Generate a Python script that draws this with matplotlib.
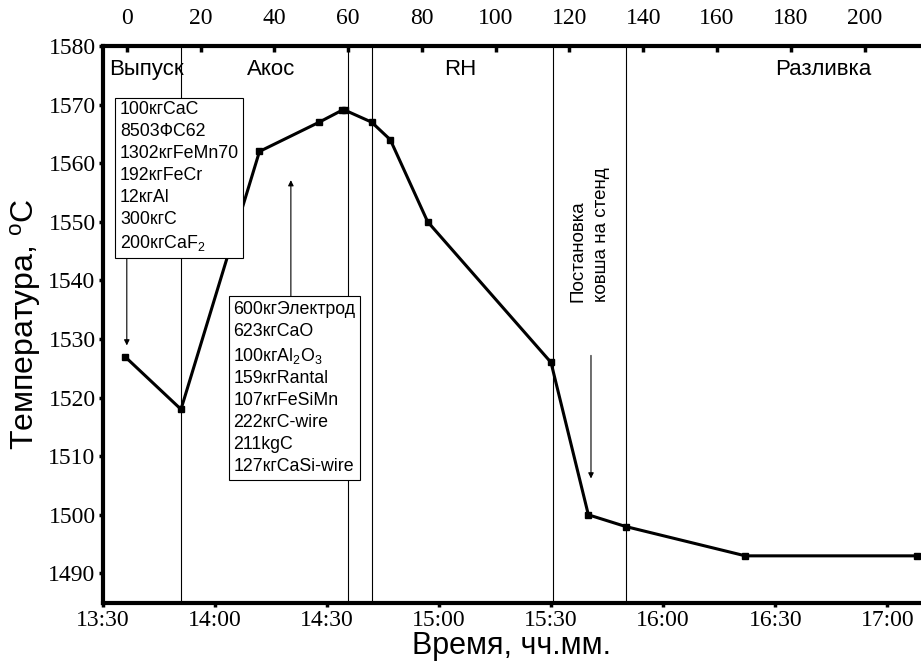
import matplotlib
matplotlib.use("Agg")
import matplotlib.pyplot as plt

# measured ladle temperature during the heat
times = ["13:36", "13:51", "14:12", "14:28", "14:34", "14:35", "14:42",
         "14:47", "14:57", "15:30", "15:40", "15:50", "16:22", "17:08"]
temps = [1527, 1518, 1562, 1567, 1569, 1569, 1567,
         1564, 1550, 1526, 1500, 1498, 1493, 1493]

# phase boundaries (vertical lines)
bounds = ["13:51", "14:35:36", "14:42", "15:30:30", "15:50"]

phases = ["Выпуск", "Акос", "RH", "Разливка"]
phase_x = ["13:31:48", "14:15:06", "15:05:48", "16:42:48"]

bottom_ticks = ["13:30", "14:00", "14:30", "15:00", "15:30", "16:00", "16:30", "17:00"]
top_ticks = [0, 20, 40, 60, 80, 100, 120, 140, 160, 180, 200]
y_ticks = [1490, 1500, 1510, 1520, 1530, 1540, 1550, 1560, 1570, 1580]

box1 = ["100кгCaC", "8503ФС62", "1302кгFeMn70", "192кгFeCr", "12кгAl",
        "300кгC", "200кгCaF$_2$"]
box2 = ["600кгЭлектрод", "623кгCaO", "100кгAl$_2$O$_3$", "159кгRantal",
        "107кгFeSiMn", "222кгC-wire", "211kgC", "127кгCaSi-wire"]


def to_min(s):
    # minutes after 13:30
    parts = [int(p) for p in s.split(":")]
    h, m = parts[0], parts[1]
    sec = parts[2] if len(parts) > 2 else 0
    return (h - 13) * 60 + m - 30 + sec / 60.0


plt.rcParams['font.family'] = ['Liberation Sans', 'DejaVu Sans']
plt.rcParams['mathtext.fontset'] = 'custom'
plt.rcParams['mathtext.rm'] = 'Liberation Sans'
plt.rcParams['mathtext.it'] = 'Liberation Sans:italic'

fig = plt.figure(figsize=(9.21, 6.66), dpi=100)
ax = fig.add_axes([0.1113, 0.095, 0.8887, 0.836])

x = [to_min(t) for t in times]
ax.plot(x, temps, '-s', color='k', lw=2.2, ms=5, clip_on=False, zorder=5)

for b in bounds:
    ax.axvline(to_min(b), color='k', lw=0.8, zorder=1)

ax.set_xlim(0, 219)
ax.set_ylim(1485, 1580)
ax.set_xticks([to_min(t) for t in bottom_ticks])
ax.set_xticklabels(bottom_ticks)
ax.set_yticks(y_ticks)

for lab in ax.get_xticklabels() + ax.get_yticklabels():
    lab.set_fontfamily('Liberation Serif')
    lab.set_fontsize(17)
ax.tick_params(axis='both', direction='out', length=3, width=2.5)
ax.tick_params(axis='x', pad=2)
ax.tick_params(axis='y', pad=2)

for side in ['left', 'bottom', 'top']:
    ax.spines[side].set_linewidth(3)
ax.spines['right'].set_visible(False)

ax.set_xlabel("Время, чч.мм.", fontsize=22, labelpad=0)
ax.set_ylabel("Температура, $^{\\rm o}$C", fontsize=23, labelpad=4)

# top axis: minutes from start of the heat
ax2 = ax.twiny()
ax2.set_xlim(-6.6, 215.3)
ax2.set_xticks(top_ticks)
ax2.tick_params(axis='x', direction='in', length=4, width=2.5, pad=12)
for lab in ax2.get_xticklabels():
    lab.set_fontfamily('Liberation Serif')
    lab.set_fontsize(17)
for s in ax2.spines.values():
    s.set_visible(False)

# phase names
for name, px in zip(phases, phase_x):
    ha = 'left' if name == "Выпуск" else 'center'
    ax.text(to_min(px), 1575.0, name, fontsize=16, ha=ha, va='baseline')

bbox = dict(boxstyle='square,pad=0.25', fc='white', ec='k', lw=0.8)
ax.text(4.66, 1570.6, "\n".join(box1), fontsize=12.8, ha='left', va='top',
        linespacing=1.38, bbox=bbox, zorder=6)
ax.text(35.0, 1536.5, "\n".join(box2), fontsize=12.8, ha='left', va='top',
        linespacing=1.38, bbox=bbox, zorder=6)

ax.text(130.4, 1536.3, "Постановка\nковша на стенд", fontsize=13.5,
        rotation=90, ha='center', va='bottom', multialignment='left',
        linespacing=1.45)

arrow = dict(arrowstyle='-|>', lw=0.8, color='k', mutation_scale=8,
             shrinkA=0, shrinkB=0)
ax.annotate("", xy=(6.5, 1528.9), xytext=(6.5, 1544.2), arrowprops=arrow)
ax.annotate("", xy=(50.4, 1557.1), xytext=(50.4, 1537.2), arrowprops=arrow)
ax.annotate("", xy=(130.7, 1506.2), xytext=(130.7, 1527.2), arrowprops=arrow)

fig.savefig("out.png", dpi=100)
